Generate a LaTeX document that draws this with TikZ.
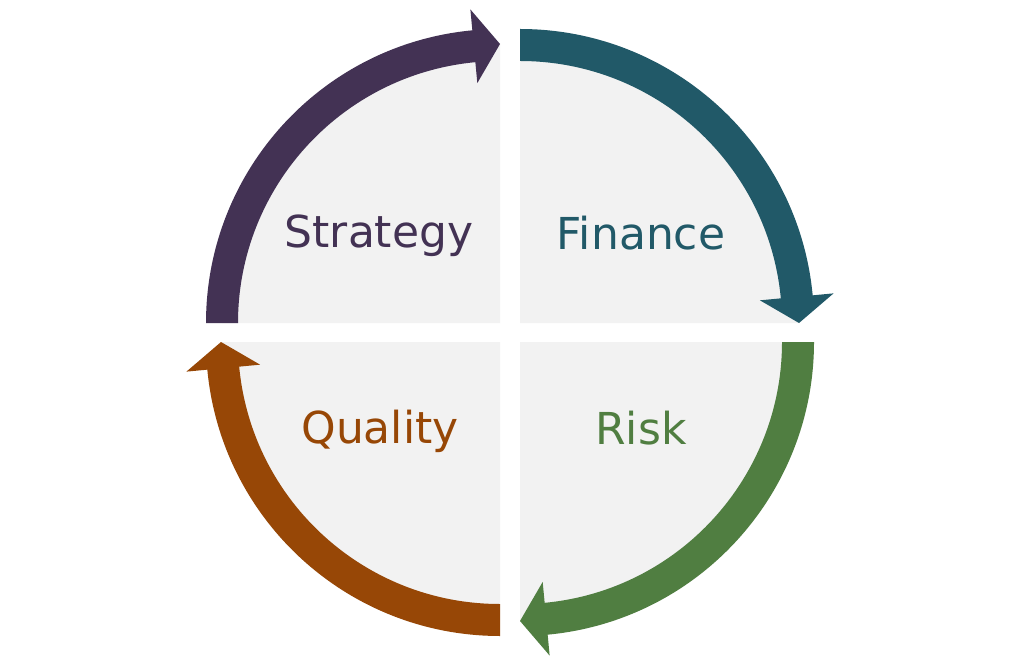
\documentclass[tikz,border=0pt]{standalone}
\usepackage{fontspec}
\setmainfont{DejaVu Sans}
\definecolor{cStrat}{HTML}{433254}
\definecolor{cFin}{HTML}{215968}
\definecolor{cRisk}{HTML}{507E41}
\definecolor{cQual}{HTML}{974706}
\definecolor{quad}{HTML}{F2F2F2}
\begin{document}
\begin{tikzpicture}[x=1pt,y=1pt,
  lbl/.style={font=\fontsize{44}{44}\selectfont, anchor=base, inner sep=0pt}]
\useasboundingbox[fill=white] (0,0) rectangle (1024,670);
\foreach \cx/\cy/\a/\col in {500/347/180/cStrat, 520/347/90/cFin, 520/328/0/cRisk, 500/328/-90/cQual}{
  \begin{scope}[shift={(\cx,\cy)}]
    \pgfmathsetmacro\b{\a-84.6}
    \pgfmathsetmacro\t{\a-90}
    \fill[quad] (0,0) -- (\a:278) arc[start angle=\a, end angle=\t, radius=278] -- cycle;
    \fill[\col] (\a:294) arc[start angle=\a, end angle=\b, radius=294]
      -- (\b:315) -- (\t:279) -- (\b:241) -- (\b:262)
      arc[start angle=\b, end angle=\a, radius=262] -- cycle;
  \end{scope}
}
\node[lbl, text=cStrat] (strategy) at (379,422) {Strategy};
\node[lbl, text=cFin] (finance) at (641,420) {Finance};
\node[lbl, text=cRisk] (risk) at (641,226) {Risk};
\node[lbl, text=cQual] (quality) at (380,227) {Quality};
\end{tikzpicture}
\end{document}
